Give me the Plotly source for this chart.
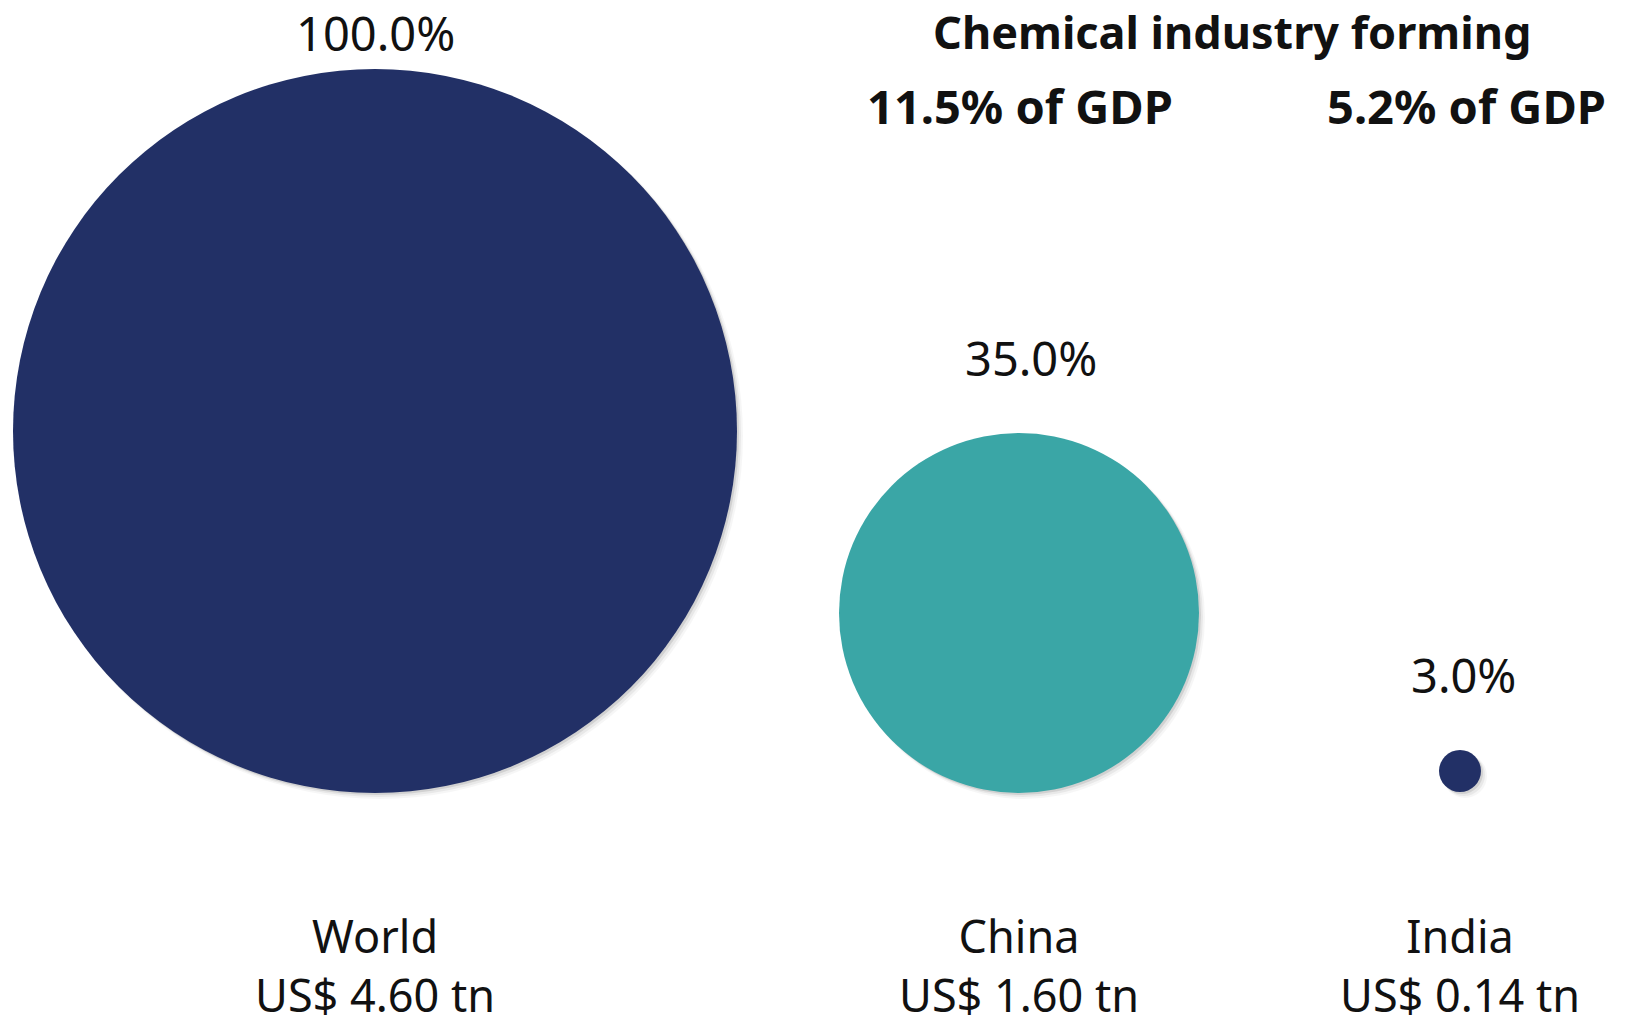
import plotly.graph_objects as go

# ---- data ----
regions = ["World", "China", "India"]
market_value_tn = [4.60, 1.60, 0.14]
share_of_world_pct = [100.0, 35.0, 3.0]
gdp_share_labels = ["11.5% of GDP", "5.2% of GDP"]
title_text = "Chemical industry forming"

# ---- layout / style (pixel space) ----
W, H = 1627, 1026
centers_x = [375, 1019, 1460]
centers_y = [431, 613, 771]
diameters = [724, 360, 42]
colors = ["#223066", "#3AA6A6", "#223066"]
pct_label_y = [28, 358, 675]
pct_label_x = [375, 1031, 1463]
gdp_x = [1020, 1466]
gdp_y = 106

FONT = "Noto Sans"

fig = go.Figure()

# soft shadow layers
for off, extra, op in [(5, 2, 0.05), (4, 0, 0.08), (2, 0, 0.14)]:
    fig.add_trace(go.Scatter(
        x=[cx + off for cx in centers_x],
        y=[cy + off for cy in centers_y],
        mode="markers",
        marker=dict(size=[d + extra for d in diameters], color=f"rgba(0,0,0,{op})",
                    line=dict(width=0)),
        hoverinfo="skip", showlegend=False,
    ))

fig.add_trace(go.Scatter(
    x=centers_x, y=centers_y, mode="markers",
    marker=dict(size=diameters, color=colors, line=dict(width=0), opacity=1),
    customdata=market_value_tn,
    text=regions,
    hovertemplate="%{text}: US$ %{customdata:.2f} tn<extra></extra>",
    showlegend=False,
))

annotations = []
for i, r in enumerate(regions):
    if i == 0:
        pct = dict(y=0, yanchor="top")
    else:
        pct = dict(y=pct_label_y[i], yanchor="middle")
    annotations.append(dict(x=pct_label_x[i], text=f"{share_of_world_pct[i]:.1f}%",
                            showarrow=False, xanchor="center", borderpad=0,
                            font=dict(family=FONT, size=47, color="#111111"), **pct))
    annotations.append(dict(x=centers_x[i], y=H, text=f"{r}<br>US$ {market_value_tn[i]:.2f} tn",
                            showarrow=False, xanchor="center", yanchor="bottom",
                            borderpad=0, align="center",
                            font=dict(family=FONT, size=45, color="#111111")))

annotations.append(dict(x=1232, y=31, text=f"<b>{title_text}</b>", showarrow=False,
                        xanchor="center", yanchor="middle",
                        font=dict(family=FONT, size=45, color="#111111")))
for gx, lab in zip(gdp_x, gdp_share_labels):
    annotations.append(dict(x=gx, y=gdp_y, text=f"<b>{lab}</b>", showarrow=False,
                            xanchor="center", yanchor="middle",
                            font=dict(family=FONT, size=47, color="#111111")))

fig.update_layout(
    width=W, height=H,
    margin=dict(l=0, r=0, t=0, b=0),
    paper_bgcolor="white", plot_bgcolor="white",
    xaxis=dict(range=[0, W], visible=False, fixedrange=True),
    yaxis=dict(range=[H, 0], visible=False, fixedrange=True),
    annotations=annotations,
)

fig.write_html("out.html")
